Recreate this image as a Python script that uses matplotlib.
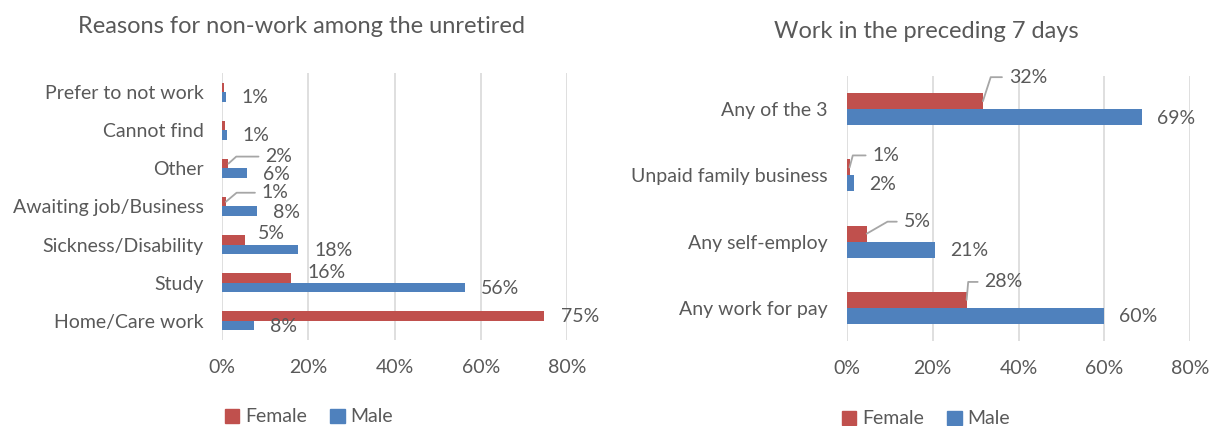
import matplotlib
matplotlib.use("Agg")
import matplotlib.pyplot as plt
from matplotlib.patches import Patch

# ── Data ───────────────────────────────────────────────────────────────────────
reasons = ["Prefer to not work", "Cannot find", "Other", "Awaiting job/Business",
           "Sickness/Disability", "Study", "Home/Care work"]
reasons_female = [0.4, 0.6, 1.5, 0.9, 5.3, 16.0, 74.6]
reasons_male = [0.9, 1.1, 5.8, 8.0, 17.7, 56.3, 7.5]
reasons_female_shown = [False, False, True, True, True, True, True]

work = ["Any of the 3", "Unpaid family business", "Any self-employ", "Any work for pay"]
work_female = [31.7, 0.6, 4.6, 27.9]
work_male = [68.8, 1.6, 20.6, 60.0]

xticks = [0, 20, 40, 60, 80]

# ── Style ──────────────────────────────────────────────────────────────────────
FEMALE = "#C0504D"
MALE = "#4F81BD"
TEXT = "#595959"
GRID = "#D9D9D9"
LEADER = "#A6A6A6"
FS = 14
TITLE_FS = 17

plt.rcParams["font.family"] = ["Lato", "DejaVu Sans"]

W, H = 1215, 426
fig = plt.figure(figsize=(W / 100, H / 100), dpi=100)


def px_axes(left, top, right, bottom):
    return fig.add_axes([left / W, 1 - bottom / H, (right - left) / W, (bottom - top) / H])


def style_axes(ax, cats, pad):
    ax.set_xlim(0, 80)
    ax.set_ylim(len(cats) - 0.5, -0.5)
    ax.set_xticks(xticks)
    ax.set_xticklabels([f"{t}%" for t in xticks])
    ax.set_yticks(range(len(cats)))
    ax.set_yticklabels(cats)
    ax.tick_params(axis="both", length=0, labelsize=FS, colors=TEXT)
    ax.tick_params(axis="y", pad=pad)
    ax.tick_params(axis="x", pad=14)
    for s in ax.spines.values():
        s.set_visible(False)
    ax.grid(axis="x", color=GRID, linewidth=1.2)
    ax.set_axisbelow(True)


def label(ax, val, y, dx, dy, angle=None):
    kw = {}
    if angle is not None:
        kw["arrowprops"] = dict(arrowstyle="-", color=LEADER, lw=1.3,
                                shrinkA=3, shrinkB=0, relpos=(0, 0.5),
                                connectionstyle=f"angle,angleA=0,angleB={angle},rad=0")
    ax.annotate(f"{val:.0f}%", xy=(val, y), xytext=(dx, dy), textcoords="offset pixels",
                ha="left", va="center", fontsize=FS, color=TEXT, **kw)


# ── Left: reasons for non-work ─────────────────────────────────────────────────
ax1 = px_axes(222, 73, 567, 340)
h1 = 0.25
ys = list(range(len(reasons)))
ax1.barh([y - h1 / 2 for y in ys], reasons_female, height=h1, color=FEMALE)
ax1.barh([y + h1 / 2 for y in ys], reasons_male, height=h1, color=MALE)
style_axes(ax1, reasons, 13)

for y, v in zip(ys, reasons_male):
    label(ax1, v, y + h1 / 2, 16, -1)

female_offsets = {2: (37, 7, 42), 3: (36, 9, 40), 4: (13, 6, None),
                  5: (16, 6, None), 6: (17, 0, None)}
for i, (v, shown) in enumerate(zip(reasons_female, reasons_female_shown)):
    if shown:
        dx, dy, ang = female_offsets[i]
        label(ax1, v, i - h1 / 2, dx, dy, ang)

ax1.set_title("Reasons for non-work among the unretired", fontsize=TITLE_FS, color=TEXT,
              pad=0, x=(301 - 222) / 345, y=1 + 40 / 267)

# ── Right: work in the preceding 7 days ────────────────────────────────────────
ax2 = px_axes(847, 76, 1190, 341)
h2 = 0.24
ys2 = list(range(len(work)))
ax2.barh([y - h2 / 2 for y in ys2], work_female, height=h2, color=FEMALE)
ax2.barh([y + h2 / 2 for y in ys2], work_male, height=h2, color=MALE)
style_axes(ax2, work, 14)

for y, v in zip(ys2, work_male):
    label(ax2, v, y + h2 / 2, 15, -1)

work_offsets = [(26, 24, 72), (23, 12, 75), (37, 12, 30), (18, 18, 85)]
for y, v, (dx, dy, ang) in zip(ys2, work_female, work_offsets):
    label(ax2, v, y - h2 / 2, dx, dy, ang)

ax2.set_title("Work in the preceding 7 days", fontsize=TITLE_FS, color=TEXT, pad=0,
              x=(926 - 847) / 343, y=1 + 38 / 265)

# ── Legends ────────────────────────────────────────────────────────────────────
handles = [Patch(color=FEMALE, label="Female"), Patch(color=MALE, label="Male")]
for cx, cy in [(309, 417), (926, 419)]:
    fig.legend(handles=handles, loc="center", bbox_to_anchor=(cx / W, 1 - cy / H),
               ncol=2, frameon=False, fontsize=FS, labelcolor=TEXT,
               handlelength=0.75, handleheight=0.75, handletextpad=0.3, columnspacing=1.2)

fig.savefig("out.png", dpi=100)
